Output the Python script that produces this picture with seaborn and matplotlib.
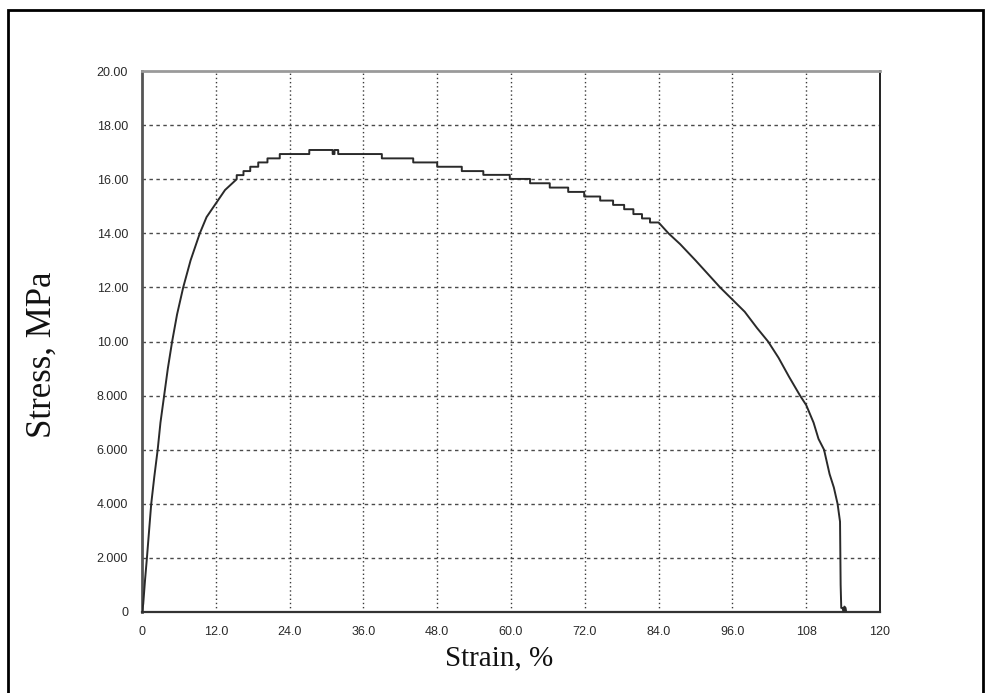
import matplotlib
matplotlib.use("Agg")
import matplotlib.pyplot as plt
from matplotlib.patches import Rectangle
import seaborn as sns
import pandas as pd

# ---- data ----
strain = [0.0, 0.2, 0.5, 0.8, 1.15, 1.5, 2.0, 2.55, 3.0, 3.6, 4.2, 4.9, 5.7, 6.7, 7.9, 9.4,
          10.5, 12.0, 13.5, 15.4,
          15.4, 16.5, 16.5, 17.6, 17.6, 18.9, 18.9, 20.4, 20.4, 22.4, 22.4, 27.2, 27.2,
          31.0, 31.0, 31.3, 31.3, 31.9, 31.9, 39.0, 39.0, 44.1, 44.1, 48.0, 48.0, 52.0, 52.0,
          55.5, 55.5, 59.8, 59.8, 63.1, 63.1, 66.3, 66.3, 69.3, 69.3, 71.9, 71.9, 74.5, 74.5,
          76.6, 76.6, 78.4, 78.4, 79.9, 79.9, 81.3, 81.3, 82.6, 82.6, 84.0,
          85.6, 87.5, 90.0, 92.0, 94.0, 96.0, 98.0, 100.0, 101.8, 103.5, 105.2, 107.0, 108.0,
          109.2, 110.0, 110.9, 111.8, 112.5, 113.1, 113.5, 113.6, 113.7, 113.9, 114.1, 114.2,
          114.4, 114.5]
stress = [0.0, 0.3, 1.2, 2.0, 3.0, 4.0, 5.0, 6.0, 7.0, 8.0, 9.0, 10.0, 11.0, 12.0, 13.0, 14.0,
          14.6, 15.1, 15.6, 16.0,
          16.15, 16.15, 16.30, 16.30, 16.46, 16.46, 16.62, 16.62, 16.77, 16.77, 16.93, 16.93, 17.08,
          17.08, 16.93, 16.93, 17.08, 17.08, 16.93, 16.93, 16.77, 16.77, 16.62, 16.62, 16.46, 16.46, 16.30,
          16.30, 16.16, 16.16, 16.01, 16.01, 15.85, 15.85, 15.69, 15.69, 15.53, 15.53, 15.36, 15.36, 15.21,
          15.21, 15.05, 15.05, 14.89, 14.89, 14.71, 14.71, 14.55, 14.55, 14.40, 14.40,
          14.0, 13.6, 13.0, 12.5, 12.0, 11.55, 11.1, 10.5, 10.0, 9.4, 8.7, 8.0, 7.65,
          7.0, 6.4, 6.0, 5.1, 4.6, 4.0, 3.34, 1.0, 0.15, 0.15, 0.0, 0.2,
          0.15, 0.0]

x_ticks = [0, 12, 24, 36, 48, 60, 72, 84, 96, 108, 120]
x_tick_labels = ["0", "12.0", "24.0", "36.0", "48.0", "60.0", "72.0", "84.0", "96.0", "108", "120"]
y_ticks = [0, 2, 4, 6, 8, 10, 12, 14, 16, 18, 20]
y_tick_labels = ["0", "2.000", "4.000", "6.000", "8.000", "10.00", "12.00", "14.00", "16.00", "18.00", "20.00"]

df = pd.DataFrame({"strain": strain, "stress": stress})

sns.set_theme(style="white")
plt.rcParams["font.family"] = ["Liberation Sans", "DejaVu Sans"]

fig = plt.figure(figsize=(9.86, 6.93), dpi=100)
ax = fig.add_axes([142 / 986, 1 - 612 / 693, (880 - 142) / 986, (612 - 71) / 693])

sns.lineplot(data=df, x="strain", y="stress", estimator=None, sort=False,
             color="#2a2a2a", lw=1.4, ax=ax, zorder=5)

ax.set_xlim(0, 120)
ax.set_ylim(0, 20)
ax.set_xticks(x_ticks)
ax.set_xticklabels(x_tick_labels)
ax.set_yticks(y_ticks)
ax.set_yticklabels(y_tick_labels)
ax.set_xlabel("")
ax.set_ylabel("")

for v in x_ticks[1:-1]:
    ax.axvline(v, color="#3a3a3a", lw=1.0, ls=(0, (1, 2)), zorder=1)
for h in y_ticks[1:-1]:
    ax.axhline(h, color="#4a4a4a", lw=1.0, ls=(0, (2.5, 2.5)), zorder=1)

ax.tick_params(axis="both", which="major", direction="out", length=4, width=1,
               color="#444444", labelsize=9, labelcolor="#2a2a2a")
ax.tick_params(axis="y", pad=6)
ax.tick_params(axis="x", pad=6)

for side, col, lw in [("top", "#9a9a9a", 2.0), ("left", "#555555", 2.0),
                      ("bottom", "#333333", 1.6), ("right", "#222222", 1.4)]:
    ax.spines[side].set_visible(True)
    ax.spines[side].set_color(col)
    ax.spines[side].set_linewidth(lw)

fig.text(42 / 986, 1 - 355 / 693, "Stress, MPa", rotation=90, ha="center", va="center",
         fontsize=25, family=["Liberation Serif", "DejaVu Serif"], color="#111111")
fig.text(499 / 986, 1 - 658 / 693, "Strain, %", ha="center", va="center",
         fontsize=21, family=["Liberation Serif", "DejaVu Serif"], color="#111111")

fig.add_artist(Rectangle((8 / 986, -0.01), (983 - 8) / 986, (693 - 10) / 693 + 0.01,
                         transform=fig.transFigure, fill=False, lw=2, ec="black"))

fig.savefig("out.png", dpi=100, facecolor="white")
